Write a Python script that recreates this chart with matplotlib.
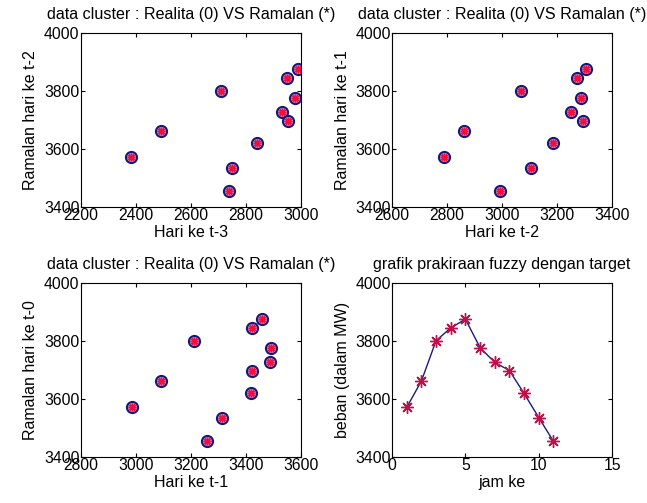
import matplotlib
matplotlib.use('Agg')
import matplotlib.pyplot as plt

# target load per hour (MW)
jam = [1, 2, 3, 4, 5, 6, 7, 8, 9, 10, 11]
beban = [3571, 3662, 3801, 3845, 3875, 3777, 3726, 3698, 3619, 3536, 3454]

# lagged inputs for the cluster plots
hari_t3 = [2381, 2491, 2709, 2948, 2988, 2980, 2930, 2955, 2841, 2750, 2739]
hari_t2 = [2788, 2863, 3068, 3274, 3304, 3287, 3251, 3296, 3185, 3105, 2992]
hari_t1 = [2985, 3091, 3210, 3424, 3457, 3493, 3488, 3424, 3417, 3315, 3259]

plt.rcParams['font.family'] = ['Liberation Sans', 'DejaVu Sans']
plt.rcParams['font.size'] = 11.5

fig = plt.figure(figsize=(6.47, 5.03), dpi=100)
w, h = 0.34, 0.346
pos = [(0.125, 0.5885), (0.606, 0.5885), (0.125, 0.0915), (0.606, 0.0915)]
axs = [fig.add_axes([x, y, w, h]) for x, y in pos]

# MATLAB style '*' marker: eight arms
bintang = (8, 2, 0)

judul = 'data cluster : Realita (0) VS Ramalan (*)'
scatter_sets = [
    (hari_t3, 'Hari ke t-3', 'Ramalan hari ke t-2', (2200, 3000), [2200, 2400, 2600, 2800, 3000]),
    (hari_t2, 'Hari ke t-2', 'Ramalan hari ke t-1', (2600, 3400), [2600, 2800, 3000, 3200, 3400]),
    (hari_t1, 'Hari ke t-1', 'Ramalan hari ke t-0', (2800, 3600), [2800, 3000, 3200, 3400, 3600]),
]

for ax, (xs, xl, yl, lim, ticks) in zip(axs[:3], scatter_sets):
    ax.plot(xs, beban, 'o', mfc='#d890c0', mec='#181878', ms=8, mew=1.5)
    ax.plot(xs, beban, ls='none', marker=bintang, color='#f01040', ms=5.5, mew=1.1)
    ax.set_xlim(lim)
    ax.set_xticks(ticks)
    ax.set_xlabel(xl, labelpad=1)
    ax.set_ylabel(yl, labelpad=4)
    ax.set_title(judul, fontsize=11.6, pad=10)

ax = axs[3]
ax.plot(jam, beban, '-', color='#1a1a80', lw=1)
ax.plot(jam, beban, ls='none', marker=bintang, color='#c0104a', ms=9, mew=1.0)
ax.set_xlim(0, 15)
ax.set_xticks([0, 5, 10, 15])
ax.set_xlabel('jam ke', labelpad=1)
ax.set_ylabel('beban (dalam MW)', labelpad=4)
ax.set_title('grafik prakiraan fuzzy dengan target', fontsize=11.6, pad=10)

for ax in axs:
    ax.set_ylim(3400, 4000)
    ax.set_yticks([3400, 3600, 3800, 4000])
    ax.tick_params(direction='in', top=True, right=True, length=3, pad=1, labelsize=11.3)

plt.savefig('out.png')
